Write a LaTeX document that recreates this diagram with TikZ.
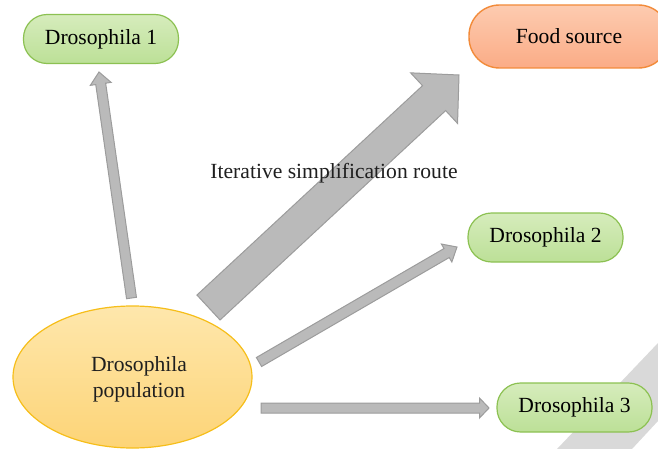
\documentclass[tikz,border=0pt]{standalone}
\usepackage{fontspec}
\setmainfont{Liberation Serif}
\usetikzlibrary{calc,shapes.geometric}
\definecolor{greenfillt}{HTML}{D6ECBC}
\definecolor{greenfillb}{HTML}{BCE097}
\definecolor{greenline}{HTML}{8CC152}
\definecolor{orangefillt}{HTML}{FDCBB0}
\definecolor{orangefillb}{HTML}{FBAC86}
\definecolor{orangeline}{HTML}{F28B3A}
\definecolor{yellowfillt}{HTML}{FEE7AC}
\definecolor{yellowfillb}{HTML}{FDD477}
\definecolor{yellowline}{HTML}{F6BE1A}
\definecolor{arrfill}{HTML}{BABABA}
\definecolor{arrline}{HTML}{9C9C9C}
\definecolor{stripe}{HTML}{D9D9D9}
\tikzset{
  pill/.style={draw=greenline, line width=0.6pt, top color=greenfillt, bottom color=greenfillb,
    minimum width=77.5pt, minimum height=24.5pt, rounded corners=11.8pt, inner sep=0pt,
    font=\fontsize{10.8}{13}\selectfont},
  foodpill/.style={draw=orangeline, line width=0.7pt, top color=orangefillt, bottom color=orangefillb,
    minimum width=100pt, minimum height=31.5pt, rounded corners=15.3pt, inner sep=0pt,
    font=\fontsize{10.8}{13}\selectfont},
  popell/.style={ellipse, draw=yellowline, line width=0.6pt, top color=yellowfillt, bottom color=yellowfillb,
    minimum width=119.5pt, minimum height=71pt, inner sep=0pt},
  plaintext/.style={inner sep=0pt, font=\fontsize{10.8}{13}\selectfont, align=center, text=black!88},
  blockarr/.style={fill=arrfill, draw=arrline, line width=0.5pt, line join=miter}
}
\newcommand\blockarrow[5]{%
  \coordinate (ba-n) at ($(#2)!#5!(#1)$);
  \draw[blockarr] ($(#1)!#3!90:(#2)$) -- ($(ba-n)!#3!90:(#2)$) -- ($(ba-n)!#4!90:(#2)$) -- (#2)
    -- ($(ba-n)!#4!-90:(#2)$) -- ($(ba-n)!#3!-90:(#2)$) -- ($(#1)!#3!-90:(#2)$) -- cycle;}
\begin{document}
\begin{tikzpicture}[x=0.5pt,y=-0.5pt]
\useasboundingbox (0,0) rectangle (658,449);
\begin{scope}
\clip (0,0) rectangle (658,449);
% background stripe
\fill[stripe] (557,449) -- (658,343) -- (658,421) -- (632,449) -- cycle;
% nodes
\node[pill] (d1) at (101,39) {Drosophila 1};
\node[foodpill] (food) at (569,36.5) {Food source};
\node[pill] (d2) at (545.5,237.5) {Drosophila 2};
\node[pill] (d3) at (574.5,407.5) {Drosophila 3};
\node[popell] (pop) at (132.5,377) {};
\node[plaintext] (poptext) at (139,379) {Drosophila\\population};
% arrow end points
\coordinate (a1s) at (131.5,298);
\coordinate (a1t) at (99,72);
\coordinate (a2s) at (208.5,307.5);
\coordinate (a2t) at (459,75);
\coordinate (a3s) at (259,362);
\coordinate (a3t) at (457,247);
\coordinate (a4s) at (261,408);
\coordinate (a4t) at (489,408);
\blockarrow{a1s}{a1t}{2.5pt}{5.25pt}{6pt}
\blockarrow{a2s}{a2t}{8.5pt}{17.25pt}{17pt}
\blockarrow{a3s}{a3t}{2.6pt}{5.2pt}{6pt}
\blockarrow{a4s}{a4t}{2.5pt}{5pt}{4.75pt}
% label
\node[plaintext] (route) at (334,173) {Iterative simplification route};
\end{scope}
\end{tikzpicture}
\end{document}
